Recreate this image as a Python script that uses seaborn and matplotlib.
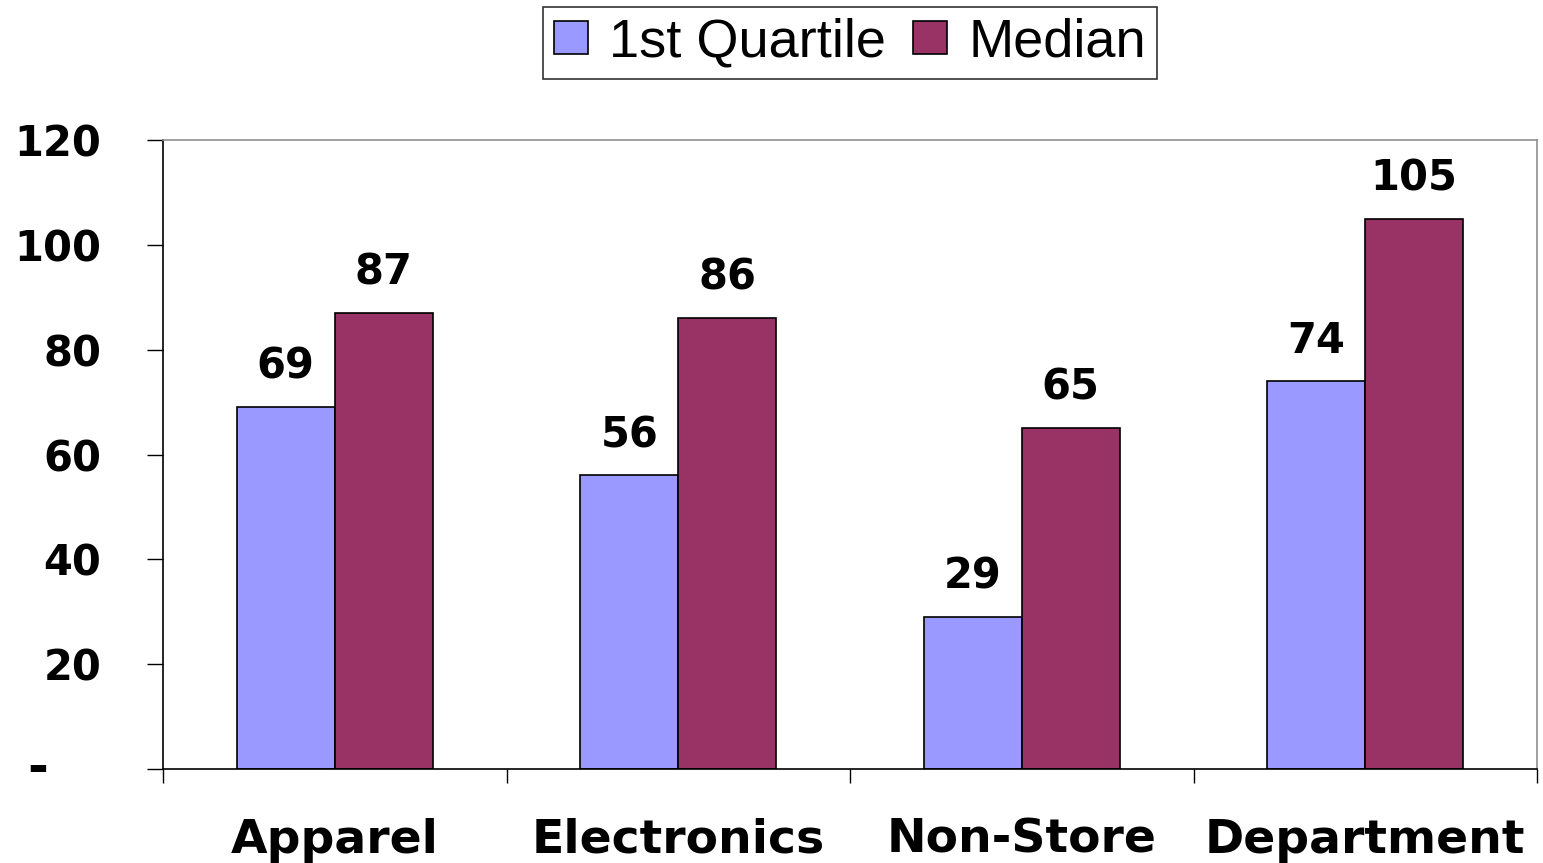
import matplotlib
matplotlib.use("Agg")
import matplotlib.pyplot as plt
import seaborn as sns
import pandas as pd
from matplotlib.patches import Patch

categories = ["Apparel", "Electronics", "Non-Store", "Department"]
series_names = ["1st Quartile", "Median"]
first_quartile = [69, 56, 29, 74]
median = [87, 86, 65, 105]
y_ticks = [0, 20, 40, 60, 80, 100, 120]
y_tick_labels = ["", "20", "40", "60", "80", "100", "120"]
colors = ["#9999FF", "#993366"]

df = pd.DataFrame({
    "category": categories * 2,
    "series": [series_names[0]] * 4 + [series_names[1]] * 4,
    "value": first_quartile + median,
})

sns.set_theme(style="white")
plt.rcParams["font.family"] = ["DejaVu Sans"]
plt.rcParams["text.color"] = "black"
plt.rcParams["xtick.color"] = "black"
plt.rcParams["ytick.color"] = "black"
plt.rcParams["xtick.labelcolor"] = "black"
plt.rcParams["ytick.labelcolor"] = "black"

fig = plt.figure(figsize=(15.43, 8.63), dpi=100)
ax = fig.add_axes([163 / 1543, 1 - 769 / 863, (1537 - 163) / 1543, (769 - 140) / 863])

sns.barplot(data=df, x="category", y="value", hue="series", palette=colors,
            width=0.57, saturation=1, edgecolor="black", linewidth=1.2,
            legend=False, ax=ax)

for cont in ax.containers:
    ax.bar_label(cont, fmt="%d", padding=14, fontsize=30, fontweight="bold",
                 color="black")

ax.set_xlim(-0.5, len(categories) - 0.5)
ax.set_ylim(0, 120)
ax.set_xlabel("")
ax.set_ylabel("")

ax.set_yticks(y_ticks)
ax.set_yticklabels(y_tick_labels, fontsize=30, fontweight="bold", color="black")
ax.tick_params(axis="y", direction="out", length=11.5, width=1, color="black",
               pad=33, left=True)
ax.text(-0.099, 0, "-", transform=ax.get_yaxis_transform(), fontsize=36,
        fontweight="bold", ha="left", va="center", color="black")

ax.set_xticks(range(len(categories)))
ax.set_xticklabels(categories, fontsize=34, fontweight="bold", color="black")
ax.set_xticks([i - 0.5 for i in range(len(categories) + 1)], minor=True)
ax.tick_params(axis="x", which="major", length=0, pad=35)
ax.tick_params(axis="x", which="minor", direction="out", length=10, width=1,
               color="black", bottom=True)

for side in ["left", "bottom"]:
    ax.spines[side].set_color("black")
    ax.spines[side].set_linewidth(1.2)
for side in ["top", "right"]:
    ax.spines[side].set_color("#909090")
    ax.spines[side].set_linewidth(1.2)

handles = [Patch(facecolor=c, edgecolor="black", linewidth=1.2) for c in colors]
leg = fig.legend(handles, series_names, loc="upper center",
                 bbox_to_anchor=(850 / 1543, 1 - 7 / 863), ncol=2,
                 prop={"family": "Liberation Sans", "size": 39},
                 frameon=True, fancybox=False, edgecolor="black",
                 handlelength=0.62, handleheight=0.55, handletextpad=0.4,
                 columnspacing=0.5, borderpad=0.2, borderaxespad=0)
leg.get_frame().set_linewidth(1.2)
for t in leg.get_texts():
    t.set_color("black")

fig.savefig("out.png", dpi=100, facecolor="white")
